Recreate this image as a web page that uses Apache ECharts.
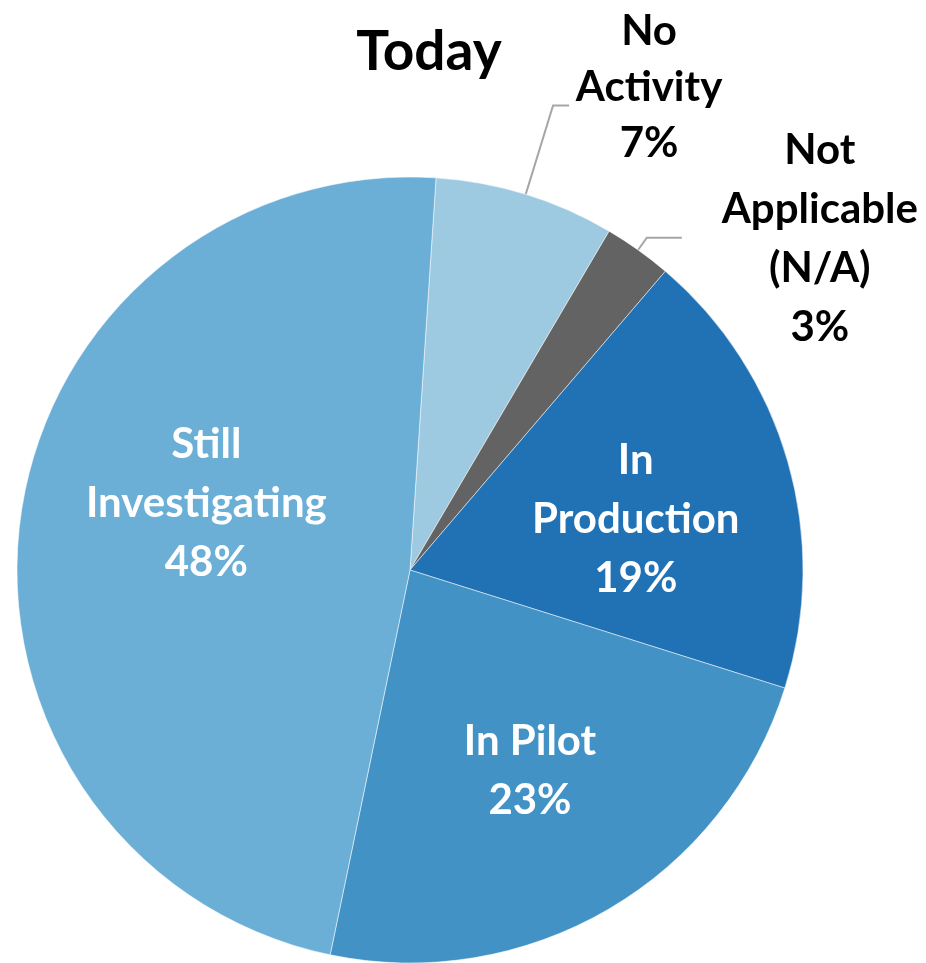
<!DOCTYPE html>
<html><head><meta charset="utf-8">
<script src="https://cdn.jsdelivr.net/npm/echarts@6/dist/echarts.min.js"></script>
<style>html,body{margin:0;padding:0;background:#fff}#c{width:926px;height:963px}</style>
</head><body><div id="c"></div>
<script>
const chartTitle = 'Today';
const categories = ['No Activity', 'Not Applicable (N/A)', 'In Production', 'In Pilot', 'Still Investigating'];
const labelTexts = ['No\nActivity', 'Not\nApplicable\n(N/A)', 'In\nProduction', 'In Pilot', 'Still\nInvestigating'];
const shares = [7.4, 2.8, 18.6, 23.4, 47.8];
const colors = ['#9ECAE1', '#636363', '#2171B5', '#4292C6', '#6BAED6'];

const FONT = 'Lato';
const FS = 42;
const LH = 59;

// label styling per slice (positions/offsets are styling, not data)
const labelStyles = [
  {outside: true, len: 93, len2: 16, width: 150, lh: 56, padding: [0, 0, 36, 0]},
  {outside: true, len: 15, len2: 35, width: 200, lh: 59, padding: [2, 0, 0, 33]},
  {outside: false, offset: [34, 4]},
  {outside: false, offset: [19, 29]},
  {outside: false, offset: [-6, -40]}
];

const data = categories.map((name, i) => {
  const st = labelStyles[i];
  const item = {name: name, value: shares[i], itemStyle: {color: colors[i]}};
  if (st.outside) {
    item.label = {
      position: 'outside',
      padding: st.padding,
      formatter: (p) => {
        const lines = labelTexts[p.dataIndex].split('\n').concat([Math.round(p.percent) + '%']);
        return lines.map(l => '{c|' + l + '}').join('\n');
      },
      rich: {c: {width: st.width, align: 'center', fontFamily: FONT, fontWeight: 'bold', fontSize: FS, lineHeight: st.lh, color: '#000'}}
    };
    item.labelLine = {show: true, length: st.len, length2: st.len2, lineStyle: {color: '#A6A6A6', width: 2}};
  } else {
    item.label = {
      position: 'inside',
      offset: st.offset,
      color: '#fff',
      formatter: (p) => labelTexts[p.dataIndex] + '\n' + Math.round(p.percent) + '%'
    };
    item.labelLine = {show: false};
  }
  return item;
});

const chart = echarts.init(document.getElementById('c'), null, {renderer: 'canvas'});
chart.setOption({
  backgroundColor: '#fff',
  animation: false,
  title: {
    text: chartTitle,
    left: 424,
    top: 20,
    textAlign: 'center',
    textStyle: {fontFamily: FONT, fontWeight: 'bold', fontSize: 55, color: '#000'}
  },
  series: [{
    type: 'pie',
    center: [410, 570],
    radius: 393,
    startAngle: 86.2,
    clockwise: true,
    avoidLabelOverlap: false,
    itemStyle: {borderColor: 'rgba(255,255,255,0.5)', borderWidth: 1},
    label: {fontFamily: FONT, fontWeight: 'bold', fontSize: FS, lineHeight: LH, textAlign: 'center'},
    labelLayout: {hideOverlap: false},
    emphasis: {disabled: true},
    data: data
  }]
});
</script></body></html>
